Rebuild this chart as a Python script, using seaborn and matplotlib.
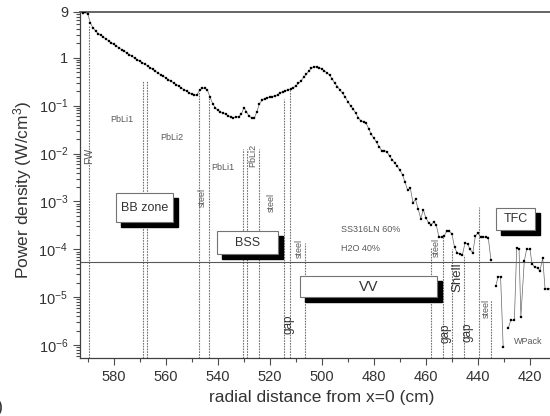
import matplotlib
matplotlib.use('Agg')
import matplotlib.pyplot as plt
from matplotlib.patches import Rectangle
from matplotlib.transforms import offset_copy
from matplotlib.ticker import FixedLocator, FuncFormatter, LogLocator, MultipleLocator
import seaborn as sns
import numpy as np
import pandas as pd

# radial mesh (cm) and power density (W/cm3), dense part through blanket, BSS and VV
x_main = [592, 591, 590, 589, 588, 587, 586, 585, 584, 583,
          582, 581, 580, 579, 578, 577, 576, 575, 574, 573,
          572, 571, 570, 569, 568, 567, 566, 565, 564, 563,
          562, 561, 560, 559, 558, 557, 556, 555, 554, 553,
          552, 551, 550, 549, 548, 547, 546, 545, 544, 543,
          542, 541, 540, 539, 538, 537, 536, 535, 534, 533,
          532, 531, 530, 529, 528, 527, 526, 525, 524, 523,
          522, 521, 520, 519, 518, 517, 516, 515, 514, 513,
          512, 511, 510, 509, 508, 507, 506, 505, 504, 503,
          502, 501, 500, 499, 498, 497, 496, 495, 494, 493,
          492, 491, 490, 489, 488, 487, 486, 485, 484, 483,
          482, 481, 480, 479, 478, 477, 476, 475, 474, 473,
          472, 471, 470, 469, 468, 467, 466, 465, 464, 463,
          462, 461, 460, 459, 458, 457, 456, 455, 454, 453,
          452, 451, 450, 449, 448, 447, 446, 445, 444, 443,
          442, 441, 440, 439, 438, 437, 436, 435]
p_main = [8.6, 8.8, 8.2, 5.3, 4.2, 3.6, 3.2, 2.95, 2.7, 2.45,
          2.25, 2.05, 1.9, 1.75, 1.6, 1.48, 1.37, 1.26, 1.16, 1.07,
          0.99, 0.91, 0.85, 0.79, 0.74, 0.67, 0.62, 0.57, 0.52, 0.48,
          0.44, 0.41, 0.38, 0.35, 0.32, 0.30, 0.275, 0.255, 0.235, 0.215,
          0.2, 0.185, 0.172, 0.163, 0.17, 0.21, 0.23, 0.232, 0.21, 0.15,
          0.11, 0.09, 0.08, 0.074, 0.07, 0.066, 0.062, 0.058, 0.056, 0.057,
          0.059, 0.066, 0.09, 0.075, 0.06, 0.056, 0.054, 0.075, 0.11, 0.13,
          0.14, 0.145, 0.15, 0.155, 0.16, 0.17, 0.185, 0.195, 0.205, 0.215,
          0.22, 0.235, 0.26, 0.29, 0.33, 0.39, 0.45, 0.53, 0.6, 0.64,
          0.65, 0.62, 0.58, 0.53, 0.48, 0.43, 0.36, 0.29, 0.25, 0.21,
          0.18, 0.15, 0.12, 0.1, 0.085, 0.07, 0.056, 0.048, 0.046, 0.043,
          0.033, 0.025, 0.021, 0.017, 0.014, 0.0115, 0.0115, 0.011, 0.0088, 0.0075,
          0.0064, 0.0054, 0.0045, 0.0036, 0.0025, 0.0017, 0.0019, 0.00095, 0.0011, 0.0007,
          4.4e-4, 6.7e-4, 4.5e-4, 3.6e-4, 3.3e-4, 3.7e-4, 3.2e-4, 1.8e-4, 1.8e-4, 1.9e-4,
          2.4e-4, 2.4e-4, 2.1e-4, 1.1e-4, 8.4e-5, 8.1e-5, 7.5e-5, 1.35e-4, 1.3e-4, 1.0e-4,
          8.4e-5, 1.9e-4, 2.2e-4, 1.8e-4, 1.8e-4, 1.8e-4, 1.7e-4, 5.9e-5]

# sparse, noisy tallies in the TFC region
x_tail1 = [433.2, 432.2, 431.3, 430.3]
p_tail1 = [1.7e-5, 2.7e-5, 2.7e-5, 9.2e-7]
x_tail2 = [428.3, 427.4, 426.0, 425.1, 424.2, 423.5, 422.2, 421.3, 420.0,
           419.2, 418.1, 416.8, 416.2, 415.1, 414.2, 413.0, 412.0]
p_tail2 = [2.3e-6, 3.3e-6, 3.3e-6, 1.07e-4, 1.0e-4, 3.9e-6, 5.6e-5, 1.0e-4, 1.0e-4,
           5.0e-5, 4.2e-5, 4.0e-5, 3.5e-5, 6.6e-5, 1.5e-5, 1.5e-5, 1.5e-5]

# layer boundaries (cm) and the height the dotted line reaches
bound_x = [589.6, 568.8, 567.3, 547.4, 543.3, 530.5, 528.8, 524.3,
           514.7, 512.3, 506.4, 458.1, 453.3, 450.1, 445.3, 439.6, 435.1]
bound_top = [4.6, 0.32, 0.32, 0.2, 0.15, 0.0126, 0.0126, 0.0126,
             0.14, 0.22, 1.33e-4, 1.1e-4, 2.0e-4, 1.0e-4, 7.5e-5, 7.7e-4, 8.7e-6]
limit_line = 5.4e-5

df = pd.DataFrame({
    'x': x_main + x_tail1 + x_tail2,
    'p': p_main + p_tail1 + p_tail2,
    'seg': [0] * len(x_main) + [1] * len(x_tail1) + [2] * len(x_tail2),
})

sns.set_style('ticks')
plt.rcParams['font.family'] = ['Liberation Sans', 'DejaVu Sans']
plt.rcParams['mathtext.default'] = 'regular'

fig = plt.figure(figsize=(5.5, 4.16), dpi=100)
ax = fig.add_axes([80 / 550, 58 / 416, 470 / 550, 346 / 416])
ax.set_yscale('log')

ybot, ytop = 5.4e-7, 9

sns.lineplot(data=df, x='x', y='p', units='seg', estimator=None, sort=False,
             color='0.4', lw=0.5, marker='s', markersize=2.1,
             markerfacecolor='black', markeredgecolor='black', markeredgewidth=0.2,
             legend=False, ax=ax, zorder=5)

ax.vlines(bound_x, ybot, bound_top, colors='0.45', linestyles=(0, (1.5, 1)), lw=0.8, zorder=2)
ax.axhline(limit_line, color='0.35', lw=0.8, zorder=2)

# labelled boxes with black drop shadow
shadow_tr = offset_copy(ax.transData, fig=fig, x=5, y=-5, units='dots')
def box(x0, x1, y0, y1, label, size):
    ax.add_patch(Rectangle((x0, y0), x1 - x0, y1 - y0, transform=shadow_tr,
                           facecolor='black', edgecolor='black', zorder=6))
    ax.add_patch(Rectangle((x0, y0), x1 - x0, y1 - y0, facecolor='white',
                           edgecolor='0.45', lw=0.8, zorder=7))
    ax.text((x0 + x1) / 2, np.sqrt(y0 * y1), label, ha='center', va='center',
            fontsize=size, color='0.2', zorder=8)

box(579.2, 557.3, 3.65e-4, 1.47e-3, 'BB zone', 9)
box(540.4, 516.9, 7.9e-5, 2.37e-4, 'BSS', 9)
box(508.5, 455.8, 1.0e-5, 2.74e-5, 'VV', 10.5)
box(433.1, 418.1, 2.49e-4, 7.15e-4, 'TFC', 9)

small = dict(fontsize=6.5, color='0.35', ha='center', va='center', zorder=4)
ax.text(589.6, 9.1e-3, 'FW', rotation=90, **{**small, 'fontsize': 7.5})
ax.text(576.9, 0.051, 'PbLi1', **small)
ax.text(557.7, 0.0215, 'PbLi2', **small)
ax.text(545.9, 1.2e-3, 'steel', rotation=90, **small)
ax.text(538.2, 5.2e-3, 'PbLi1', **small)
ax.text(526.4, 9.1e-3, 'PbLi2', rotation=90, **small)
ax.text(519.5, 9.7e-4, 'steel', rotation=90, **small)
ax.text(508.7, 1.03e-4, 'steel', rotation=90, **small)
ax.text(492.7, 2.57e-4, 'SS316LN 60%', **{**small, 'ha': 'left'})
ax.text(492.7, 1.03e-4, 'H2O 40%', **{**small, 'ha': 'left'})
ax.text(455.9, 1.07e-4, 'steel', rotation=90, **small)
ax.text(436.9, 5.8e-6, 'steel', rotation=90, **small)
ax.text(420.7, 1.17e-6, 'WPack', **small)
big = dict(fontsize=8.5, color='0.2', ha='center', va='center', rotation=90, zorder=4)
ax.text(512.7, 2.74e-6, 'gap', **big)
ax.text(452.4, 1.75e-6, 'gap', **big)
ax.text(444.1, 1.9e-6, 'gap', **big)
ax.text(447.8, 2.57e-5, 'Shell', **{**big, 'fontsize': 9.5})

ax.set_xlim(593, 412.3)
ax.set_ylim(ybot, ytop)
ax.xaxis.set_major_locator(MultipleLocator(20))
ax.xaxis.set_minor_locator(MultipleLocator(10))
ax.yaxis.set_major_locator(FixedLocator([1e-6, 1e-5, 1e-4, 1e-3, 1e-2, 1e-1, 1, 9]))
ax.yaxis.set_minor_locator(LogLocator(base=10, subs=np.arange(2, 10), numticks=20))

def ylab(v, pos):
    if v > 5:
        return '9'
    if abs(v - 1) < 1e-9:
        return '1'
    return '10$^{%d}$' % round(np.log10(v))
ax.yaxis.set_major_formatter(FuncFormatter(ylab))

ax.tick_params(which='both', direction='out', color='0.3', width=0.8,
               labelsize=10.5, labelcolor='0.2', right=False, top=False)
ax.tick_params(which='major', length=5)
ax.tick_params(which='minor', length=3)
ax.spines['right'].set_visible(False)
ax.spines['top'].set_color('0.35')
ax.spines['top'].set_linewidth(1.3)
for s in ['left', 'bottom']:
    ax.spines[s].set_color('0.25')
    ax.spines[s].set_linewidth(0.9)

ax.set_xlabel('radial distance from x=0 (cm)', fontsize=12.5, color='0.2')
ax.set_ylabel('Power density (W/cm$^3$)', fontsize=12.5, color='0.2')
ax.xaxis.set_label_coords(0.515, -0.092)
ax.yaxis.set_label_coords(-0.097, 0.486)

# right half of a panel tag, cut by the crop in the original figure
fig.text(-0.006, 0.0, ')', fontsize=13, color='0.2', va='bottom')

fig.savefig('out.png', dpi=100)
